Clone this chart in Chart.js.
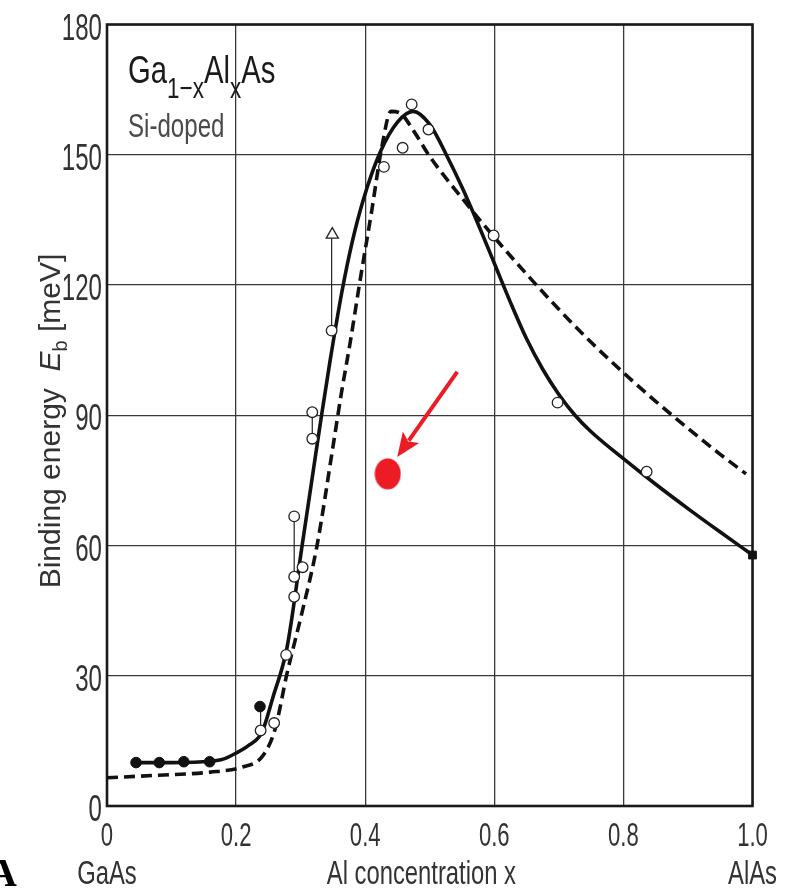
<!DOCTYPE html>
<html><head><meta charset="utf-8">
<script src="https://cdn.jsdelivr.net/npm/chart.js@4.4.1/dist/chart.umd.min.js"></script>
<style>html,body{margin:0;padding:0;background:#fff;}canvas{display:block;}</style>
</head><body>
<canvas id="c" width="787" height="890"></canvas>
<script>
// ---- data ----
const xTickLabels = ['0', '0.2', '0.4', '0.6', '0.8', '1.0'];
const yTickLabels = ['0', '30', '60', '90', '120', '150', '180'];
const xEndLabels = ['GaAs', 'AlAs'];
const xTitle = 'Al concentration x';

// solid theoretical curve
const solidX = [0.045, 0.10, 0.16, 0.18, 0.20, 0.22, 0.24, 0.257, 0.279, 0.302, 0.32, 0.333, 0.345, 0.364, 0.38, 0.397, 0.423, 0.45, 0.474, 0.50, 0.527, 0.55, 0.575, 0.60, 0.625, 0.65, 0.675, 0.70, 0.725, 0.75, 0.80, 0.85, 0.90, 0.95, 1.0];
const solidY = [10, 10, 10.3, 10.8, 12.2, 14, 17, 25, 36.6, 59.7, 77.7, 90.6, 102, 118.5, 130, 139.6, 150.5, 157.5, 160, 157, 149.6, 142.5, 134, 125, 116, 107.6, 100.6, 94.8, 90.0, 86.2, 80.0, 74.1, 68.5, 63.1, 57.8];

// dashed theoretical curve
const dashX = [0, 0.08, 0.16, 0.21, 0.24, 0.26, 0.279, 0.302, 0.325, 0.35, 0.363, 0.377, 0.392, 0.41, 0.426, 0.44, 0.455, 0.475, 0.50, 0.55, 0.60, 0.65, 0.70, 0.75, 0.80, 0.85, 0.90, 0.95, 0.99];
const dashY = [6.5, 7.1, 7.8, 9, 11.3, 17.5, 30.6, 44.5, 59.7, 82.7, 95, 107, 121, 137, 152, 160, 159.5, 155.5, 149.6, 140, 131, 122.5, 114.4, 106.8, 99.8, 93.2, 87.0, 81.0, 76.5];

// open circles (measurements)
const openX = [0.238, 0.259, 0.2775, 0.29, 0.29, 0.29, 0.303, 0.318, 0.318, 0.348, 0.429, 0.458, 0.472, 0.498, 0.599, 0.698, 0.836];
const openY = [17.4, 19.1, 34.8, 48.2, 52.8, 66.7, 55, 84.6, 90.7, 109.5, 147.2, 151.6, 161.6, 155.8, 131.4, 92.9, 77];

// open triangle (lower limit)
const triX = [0.349];
const triY = [131.6];

// filled circles
const filledX = [0.045, 0.081, 0.119, 0.159, 0.237];
const filledY = [10, 10, 10.2, 10.2, 22.9];

// filled square (AlAs)
const squareX = [1.0];
const squareY = [57.8];

// vertical bars joining paired measurements
const barX = [0.238, 0.29, 0.318, 0.348];
const barLow = [17.4, 52.8, 84.6, 109.5];
const barHigh = [22.9, 66.7, 90.7, 131.6];

// red marker + arrow (annotation)
const redX = [0.435];
const redY = [76.5];
const arrowFrom = [0.5426, 100.0];
const arrowTo = [0.4496, 80.4];

// ---- helpers ----
const pts = (xs, ys) => xs.map((x, i) => ({x: x, y: ys[i]}));
const FONT = "'Liberation Sans', Arimo, Arial, sans-serif";

function drawScaled(ctx, text, x, y, font, sx, align) {
  ctx.save();
  ctx.font = font;
  ctx.translate(x, y);
  ctx.scale(sx, 1);
  const w = ctx.measureText(text).width;
  const dx = align === 'center' ? -w / 2 : (align === 'right' ? -w : 0);
  ctx.textBaseline = 'alphabetic';
  ctx.textAlign = 'left';
  ctx.fillText(text, dx, 0);
  ctx.restore();
  return w * sx;
}

// elliptical red dot as point style
const redDot = document.createElement('canvas');
redDot.width = 27; redDot.height = 32;
(function () {
  const g = redDot.getContext('2d');
  g.fillStyle = '#ec1c24';
  g.beginPath();
  g.ellipse(13.5, 16, 13, 15.5, 0, 0, Math.PI * 2);
  g.fill();
})();

const barSets = barX.map((x, i) => ({
  data: [{x: x, y: barLow[i]}, {x: x, y: barHigh[i]}],
  showLine: true, borderColor: '#222', borderWidth: 1.2, pointRadius: 0, order: 5
}));

const decorPlugin = {
  id: 'decor',
  beforeDatasetsDraw(chart) {
    const {ctx, chartArea: a} = chart;
    ctx.save();
    ctx.strokeStyle = '#1a1a1a';
    ctx.lineWidth = 2.6;
    ctx.strokeRect(a.left, a.top, a.right - a.left, a.bottom - a.top);
    ctx.restore();
  },
  afterDatasetsDraw(chart) {
    const {ctx, scales: {x, y}} = chart;
    // red arrow
    const x1 = x.getPixelForValue(arrowFrom[0]), y1 = y.getPixelForValue(arrowFrom[1]);
    const x2 = x.getPixelForValue(arrowTo[0]), y2 = y.getPixelForValue(arrowTo[1]);
    const ang = Math.atan2(y2 - y1, x2 - x1);
    const headLen = 24, headW = 10;
    const bx = x2 - headLen * Math.cos(ang), by = y2 - headLen * Math.sin(ang);
    ctx.save();
    ctx.strokeStyle = '#ec1c24';
    ctx.fillStyle = '#ec1c24';
    ctx.lineWidth = 4;
    ctx.beginPath(); ctx.moveTo(x1, y1); ctx.lineTo(bx + 4 * Math.cos(ang), by + 4 * Math.sin(ang)); ctx.stroke();
    ctx.beginPath();
    ctx.moveTo(x2, y2);
    ctx.lineTo(bx + headW * Math.sin(ang), by - headW * Math.cos(ang));
    ctx.lineTo(bx + 5 * Math.cos(ang), by + 5 * Math.sin(ang));
    ctx.lineTo(bx - headW * Math.sin(ang), by + headW * Math.cos(ang));
    ctx.closePath(); ctx.fill();
    ctx.restore();
  },
  afterDraw(chart) {
    const {ctx, chartArea: a, scales: {x, y}} = chart;
    ctx.save();

    // tick labels, placed by the chart's own scales
    ctx.fillStyle = '#333';
    y.ticks.forEach((t, i) => {
      drawScaled(ctx, yTickLabels[i], a.left - 5, y.getPixelForValue(t.value) + 15,
                 '37px ' + FONT, 0.65, 'right');
    });
    x.ticks.forEach((t, i) => {
      drawScaled(ctx, xTickLabels[i], x.getPixelForValue(t.value), a.bottom + 40,
                 '34px ' + FONT, 0.65, 'center');
    });
    // second row: end labels + axis title
    const row2 = a.bottom + 78;
    drawScaled(ctx, xEndLabels[0], x.getPixelForValue(0), row2, '34px ' + FONT, 0.7, 'center');
    drawScaled(ctx, xEndLabels[1], x.getPixelForValue(1), row2, '34px ' + FONT, 0.7, 'center');
    drawScaled(ctx, xTitle, x.getPixelForValue(0.487), row2, '34px ' + FONT, 0.7, 'center');

    // compound label inside plot
    ctx.fillStyle = '#1a1a1a';
    let cx = a.left + 21;
    const base = 83;
    const parts = [['Ga', 39, 0], ['1\u2212x', 30, 15], ['Al', 39, 0], ['x', 30, 15], ['As', 39, 0]];
    parts.forEach(p => {
      cx += drawScaled(ctx, p[0], cx, base + p[2], p[1] + 'px ' + FONT, 0.75, 'left');
    });
    ctx.fillStyle = '#4a4a4a';
    drawScaled(ctx, 'Si-doped', a.left + 21, 137, '33px ' + FONT, 0.73, 'left');

    // y axis title (rotated)
    const segs = [
      ['Binding energy  ', '30px ' + FONT, 0],
      ['E', 'italic 30px ' + FONT, 0],
      ['b', '20px ' + FONT, 7],
      [' [meV]', '30px ' + FONT, 0]
    ];
    let total = 0;
    segs.forEach(s => { ctx.font = s[1]; total += ctx.measureText(s[0]).width; });
    ctx.translate(60, 421);
    ctx.rotate(-Math.PI / 2);
    ctx.fillStyle = '#333';
    ctx.textBaseline = 'alphabetic';
    let px = -total / 2;
    segs.forEach(s => {
      ctx.font = s[1];
      ctx.fillText(s[0], px, s[2]);
      px += ctx.measureText(s[0]).width;
    });
    ctx.restore();

    // panel letter (cut at left edge)
    ctx.save();
    ctx.fillStyle = '#000';
    ctx.font = "bold 40px 'Liberation Serif', serif";
    ctx.textAlign = 'right';
    ctx.textBaseline = 'alphabetic';
    ctx.fillText('A', 17, 886);
    ctx.restore();
  }
};

new Chart(document.getElementById('c'), {
  type: 'scatter',
  data: {
    datasets: [
      ...barSets,
      {data: pts(dashX, dashY), showLine: true, borderColor: '#111', borderWidth: 3.6,
       borderDash: [11, 6], pointRadius: 0, cubicInterpolationMode: 'monotone', order: 4},
      {data: pts(solidX, solidY), showLine: true, borderColor: '#111', borderWidth: 3.6,
       pointRadius: 0, cubicInterpolationMode: 'monotone', order: 3},
      {data: pts(openX, openY), pointStyle: 'circle', pointRadius: 5.3, backgroundColor: '#fff',
       borderColor: '#222', borderWidth: 1.3, order: 2},
      {data: pts(triX, triY), pointStyle: 'triangle', pointRadius: 7, backgroundColor: '#fff',
       borderColor: '#222', borderWidth: 1.3, order: 2},
      {data: pts(filledX, filledY), pointStyle: 'circle', pointRadius: 5.3, backgroundColor: '#111',
       borderColor: '#111', borderWidth: 1, order: 1},
      {data: pts(squareX, squareY), pointStyle: 'rect', pointRadius: 5.5, backgroundColor: '#111',
       borderColor: '#111', borderWidth: 1, order: 1},
      {data: pts(redX, redY), pointStyle: redDot, backgroundColor: '#ec1c24', order: 0}
    ]
  },
  options: {
    responsive: false,
    devicePixelRatio: 1,
    animation: false,
    layout: {padding: {top: 24.5, right: 34.5, bottom: 0, left: 0}},
    plugins: {legend: {display: false}, tooltip: {enabled: false}},
    elements: {line: {borderCapStyle: 'butt'}},
    datasets: {scatter: {clip: false}},
    scales: {
      x: {
        type: 'linear', min: 0, max: 1,
        ticks: {stepSize: 0.2, display: false, callback: (v, i) => xTickLabels[i]},
        grid: {color: '#3a3a3a', lineWidth: 1.3, drawTicks: false},
        border: {display: false},
        afterFit: s => { s.height = 84; s.paddingLeft = 0; s.paddingRight = 0; }
      },
      y: {
        type: 'linear', min: 0, max: 180,
        ticks: {stepSize: 30, display: false, callback: (v, i) => yTickLabels[i]},
        grid: {color: '#3a3a3a', lineWidth: 1.3, drawTicks: false},
        border: {display: false},
        afterFit: s => { s.width = 107; s.paddingTop = 0; s.paddingBottom = 0; }
      }
    }
  },
  plugins: [decorPlugin]
});
</script>
</body></html>
